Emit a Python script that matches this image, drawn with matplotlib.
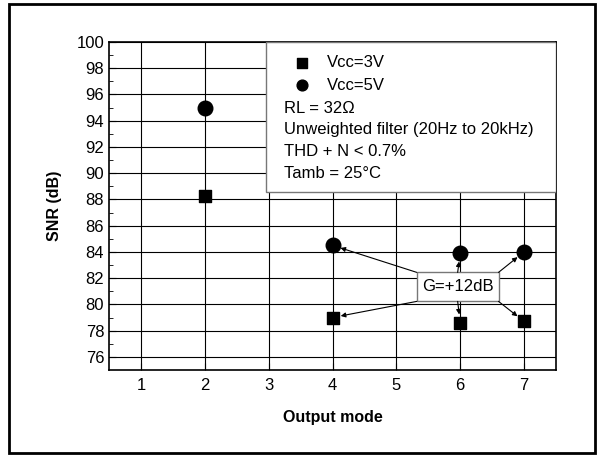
import matplotlib.pyplot as plt
from matplotlib.patches import Rectangle

plt.rcParams['font.family'] = ['Liberation Sans', 'DejaVu Sans']

modes = [2, 4, 6, 7]
snr_3v = [88.3, 79.0, 78.6, 78.7]
snr_5v = [95.0, 84.5, 83.9, 84.0]
xticks = [1, 2, 3, 4, 5, 6, 7]

fig = plt.figure(figsize=(6, 4.55), dpi=100)
ax = fig.add_axes([109 / 600, 1 - 370 / 455, (556 - 109) / 600, (370 - 42) / 455])

ax.set_xlim(0.5, 7.5)
ax.set_ylim(75, 100)
ax.set_xticks(xticks)
ax.set_yticks(range(76, 101, 2))
ax.set_yticks(range(77, 100, 2), minor=True)
ax.grid(True, which='major', color='black', linewidth=0.8)
ax.set_axisbelow(True)
ax.tick_params(which='both', direction='in', labelsize=12, color='black')
ax.tick_params(which='major', length=5)
ax.tick_params(which='minor', length=3, left=True)
ax.tick_params(axis='x', pad=6)
for s in ax.spines.values():
    s.set_linewidth(1.2)

ax.scatter(modes, snr_3v, marker='s', s=80, color='black', zorder=3)
ax.scatter(modes, snr_5v, marker='o', s=110, color='black', zorder=3)

ax.set_xlabel('Output mode', fontsize=11.5, fontweight='bold', labelpad=12)
ax.set_ylabel('SNR (dB)', fontsize=11.5, fontweight='bold', labelpad=10)

# info box with legend
ax.add_patch(Rectangle((2.96, 88.55), 7.5 - 2.96, 100 - 88.55, facecolor='white',
                       edgecolor='#777777', linewidth=1.0, zorder=4))
ax.scatter([3.52], [98.4], marker='s', s=50, color='black', zorder=5)
ax.scatter([3.52], [96.7], marker='o', s=60, color='black', zorder=5)
ax.text(3.91, 98.4, 'Vcc=3V', fontsize=12, va='center', zorder=5)
ax.text(3.91, 96.7, 'Vcc=5V', fontsize=12, va='center', zorder=5)
info = ['RL = 32Ω', 'Unweighted filter (20Hz to 20kHz)', 'THD + N < 0.7%', 'Tamb = 25°C']
for i, line in enumerate(info):
    ax.text(3.24, 94.96 - i * 1.66, line, fontsize=12, va='center', zorder=5)

# gain annotation box with arrows
bx0, bx1, by0, by1 = 5.32, 6.6, 80.23, 82.44
ax.add_patch(Rectangle((bx0, by0), bx1 - bx0, by1 - by0, facecolor='white',
                       edgecolor='#777777', linewidth=1.0, zorder=4))
ax.text((bx0 + bx1) / 2, (by0 + by1) / 2, 'G=+12dB', fontsize=12, ha='center',
        va='center', zorder=5)
starts_5v = [(bx0, by1), ((bx0 + bx1) / 2, by1), (bx1, by1)]
starts_3v = [(bx0, by0), ((bx0 + bx1) / 2, by0), (bx1, by0)]
for (sx, sy), x, y in zip(starts_5v, modes[1:], snr_5v[1:]):
    ax.annotate('', xy=(x, y), xytext=(sx, sy), zorder=5,
                arrowprops=dict(arrowstyle='-|>', color='black', lw=0.8,
                                mutation_scale=7, shrinkB=6, shrinkA=0))
for (sx, sy), x, y in zip(starts_3v, modes[1:], snr_3v[1:]):
    ax.annotate('', xy=(x, y), xytext=(sx, sy), zorder=5,
                arrowprops=dict(arrowstyle='-|>', color='black', lw=0.8,
                                mutation_scale=7, shrinkB=6, shrinkA=0))

# outer frame
fig.patches.append(Rectangle((9 / 600, 1 - 453 / 455), 586 / 600, 449 / 455,
                             transform=fig.transFigure, fill=False,
                             edgecolor='black', linewidth=2))

plt.savefig('out.png', dpi=100)
